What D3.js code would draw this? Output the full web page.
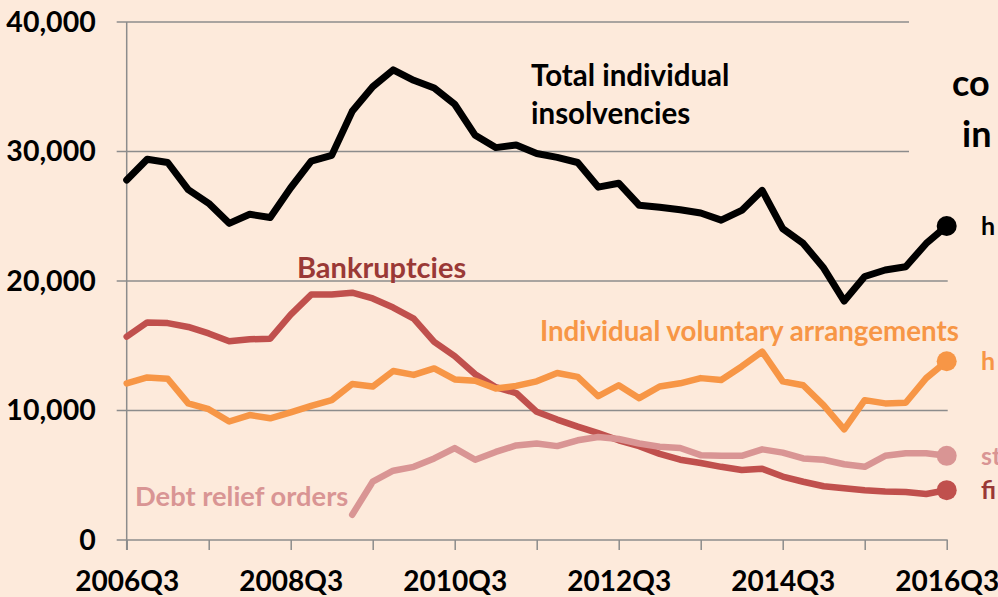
<!DOCTYPE html>
<html>
<head>
<meta charset="utf-8">
<script src="https://cdn.jsdelivr.net/npm/d3@7"></script>
<style>
  html, body { margin: 0; padding: 0; background: #FDEADB; overflow: hidden; }
  svg { display: block; }
  text { font-family: Lato, "Open Sans", sans-serif; font-weight: 700; }
</style>
</head>
<body>
<svg id="chart" width="998" height="597"></svg>
<script>
// ---------- DATA ----------
const quarters = [
  "2006Q3","2006Q4","2007Q1","2007Q2","2007Q3","2007Q4","2008Q1","2008Q2",
  "2008Q3","2008Q4","2009Q1","2009Q2","2009Q3","2009Q4","2010Q1","2010Q2",
  "2010Q3","2010Q4","2011Q1","2011Q2","2011Q3","2011Q4","2012Q1","2012Q2",
  "2012Q3","2012Q4","2013Q1","2013Q2","2013Q3","2013Q4","2014Q1","2014Q2",
  "2014Q3","2014Q4","2015Q1","2015Q2","2015Q3","2015Q4","2016Q1","2016Q2",
  "2016Q3"
];
const totalInsolvencies = [
  27800, 29400, 29150, 27050, 26000, 24450, 25150, 24900,
  27200, 29250, 29700, 33100, 35000, 36300, 35500, 34900,
  33650, 31250, 30300, 30500, 29850, 29550, 29150, 27250,
  27550, 25850, 25700, 25500, 25250, 24700, 25450, 27000,
  24050, 22900, 21000, 18450, 20350, 20850, 21100, 22900,
  24250
];
const bankruptcies = [
  15700, 16800, 16750, 16450, 15950, 15350, 15500, 15550,
  17400, 18950, 18950, 19100, 18650, 17950, 17100, 15300,
  14200, 12800, 11800, 11350, 9900, 9300, 8750, 8250,
  7700, 7250, 6650, 6200, 5950, 5650, 5400, 5500,
  4900, 4500, 4150, 4000, 3850, 3750, 3700, 3550,
  3850
];
const iva = [
  12100, 12550, 12450, 10550, 10100, 9150, 9650, 9400,
  9850, 10350, 10800, 12050, 11850, 13050, 12750, 13250,
  12400, 12300, 11700, 11900, 12250, 12900, 12600, 11100,
  11950, 10950, 11850, 12100, 12500, 12350, 13400, 14550,
  12250, 11950, 10400, 8550, 10800, 10550, 10600, 12500,
  13800
];
const debtReliefOrders = [
  null, null, null, null, null, null, null, null,
  null, null, null, 1950, 4500, 5350, 5650, 6300,
  7100, 6200, 6800, 7300, 7450, 7250, 7700, 7950,
  7800, 7450, 7200, 7100, 6550, 6500, 6500, 7000,
  6750, 6300, 6200, 5850, 5650, 6500, 6700, 6700,
  6500
];
const yTicks = [0, 10000, 20000, 30000, 40000];
const xLabelQuarters = ["2006Q3","2008Q3","2010Q3","2012Q3","2014Q3","2016Q3"];

const seriesNames = ["Total individual insolvencies", "Bankruptcies", "Individual voluntary arrangements", "Debt relief orders"];
const endLabels = ["h", "fi", "h", "st"];
const sideTitle = ["co", "in"];

// ---------- STYLE ----------
const colors = {
  total: "#000000",
  bankr: "#C0504D",
  bankrText: "#9A3936",
  iva: "#F79646",
  dro: "#D99594",
  grid: "#8C8C8C",
  bg: "#FDEADB"
};

const svg = d3.select("#chart");
svg.append("rect").attr("width", 998).attr("height", 597).attr("fill", colors.bg);

const plotL = 126.7, plotR = 947.7, plotT = 22, plotB = 540;
const x = d3.scalePoint().domain(quarters).range([plotL, plotR - 1]).padding(0);
const y = d3.scaleLinear().domain([0, 40000]).range([plotB, plotT]);

// gridlines
svg.append("g").selectAll("line").data(yTicks).join("line")
  .attr("x1", plotL - 10).attr("x2", plotR)
  .attr("y1", d => y(d)).attr("y2", d => y(d))
  .attr("stroke", colors.grid).attr("stroke-width", 1.5);

// text box of the right annotation covers the upper gridlines
svg.append("rect").attr("x", 909).attr("y", 0).attr("width", 89).attr("height", 200).attr("fill", colors.bg);

// y axis
const yAxis = d3.axisLeft(y).tickValues(yTicks).tickSize(0).tickPadding(31)
  .tickFormat(d3.format(","));
const gy = svg.append("g").attr("transform", `translate(${plotL},0)`).call(yAxis);
gy.select(".domain").remove();
gy.selectAll("text").attr("font-size", 28.5).attr("fill", "#000")
  .attr("font-family", "Lato, sans-serif").attr("font-weight", 700);
svg.append("line").attr("x1", plotL).attr("x2", plotL).attr("y1", plotT).attr("y2", plotB + 10)
  .attr("stroke", colors.grid).attr("stroke-width", 1.5);

// x axis
const xTickVals = quarters.filter((q, i) => i % 4 === 0);
const xAxis = d3.axisBottom(x).tickValues(xTickVals).tickSize(10).tickPadding(21)
  .tickFormat(d => xLabelQuarters.includes(d) ? d : "");
const gx = svg.append("g").attr("transform", `translate(0,${plotB})`).call(xAxis);
gx.select(".domain").remove();
gx.selectAll(".tick line").attr("stroke", colors.grid).attr("stroke-width", 1.5);
gx.selectAll("text").attr("font-size", 28).attr("fill", "#000")
  .attr("font-family", "Lato, sans-serif").attr("font-weight", 700);

// lines
const line = d3.line()
  .defined(d => d.v !== null)
  .x(d => x(d.q)).y(d => y(d.v));

function drawSeries(values, color, width) {
  const data = quarters.map((q, i) => ({ q, v: values[i] }));
  svg.append("path").datum(data)
    .attr("fill", "none").attr("stroke", color).attr("stroke-width", width)
    .attr("stroke-linejoin", "round").attr("stroke-linecap", "round")
    .attr("d", line);
  const last = data[data.length - 1];
  svg.append("circle").attr("cx", x(last.q)).attr("cy", y(last.v)).attr("r", 10).attr("fill", color);
}
drawSeries(totalInsolvencies, colors.total, 7);
drawSeries(bankruptcies, colors.bankr, 6.5);
drawSeries(iva, colors.iva, 6.5);
drawSeries(debtReliefOrders, colors.dro, 6.5);

// series labels
const t1 = svg.append("text").attr("x", 531).attr("y", 86).attr("font-size", 29.5).attr("fill", "#000");
t1.append("tspan").attr("x", 531).text("Total individual");
t1.append("tspan").attr("x", 531).attr("dy", 38).text("insolvencies");

svg.append("text").attr("x", 297).attr("y", 278).attr("font-size", 29)
  .attr("fill", colors.bankrText).text(seriesNames[1]);
svg.append("text").attr("x", 540).attr("y", 341).attr("font-size", 27.7)
  .attr("fill", colors.iva).text(seriesNames[2]);
svg.append("text").attr("x", 135).attr("y", 506).attr("font-size", 27.3)
  .attr("fill", colors.dro).text(seriesNames[3]);

// right-side annotations (cut by the frame edge in the original)
svg.append("text").attr("x", 952).attr("y", 96).attr("font-size", 36).attr("fill", "#000").text(sideTitle[0]);
svg.append("text").attr("x", 962).attr("y", 147).attr("font-size", 36).attr("fill", "#000").text(sideTitle[1]);
const endColors = [colors.total, colors.bankrText, colors.iva, colors.dro];
const endYs = [totalInsolvencies[40], bankruptcies[40], iva[40], debtReliefOrders[40]];
endLabels.forEach((t, i) => {
  svg.append("text").attr("x", 981).attr("y", y(endYs[i])).attr("dy", "0.36em")
    .attr("font-size", 25).attr("fill", endColors[i]).text(t);
});
</script>
</body>
</html>
